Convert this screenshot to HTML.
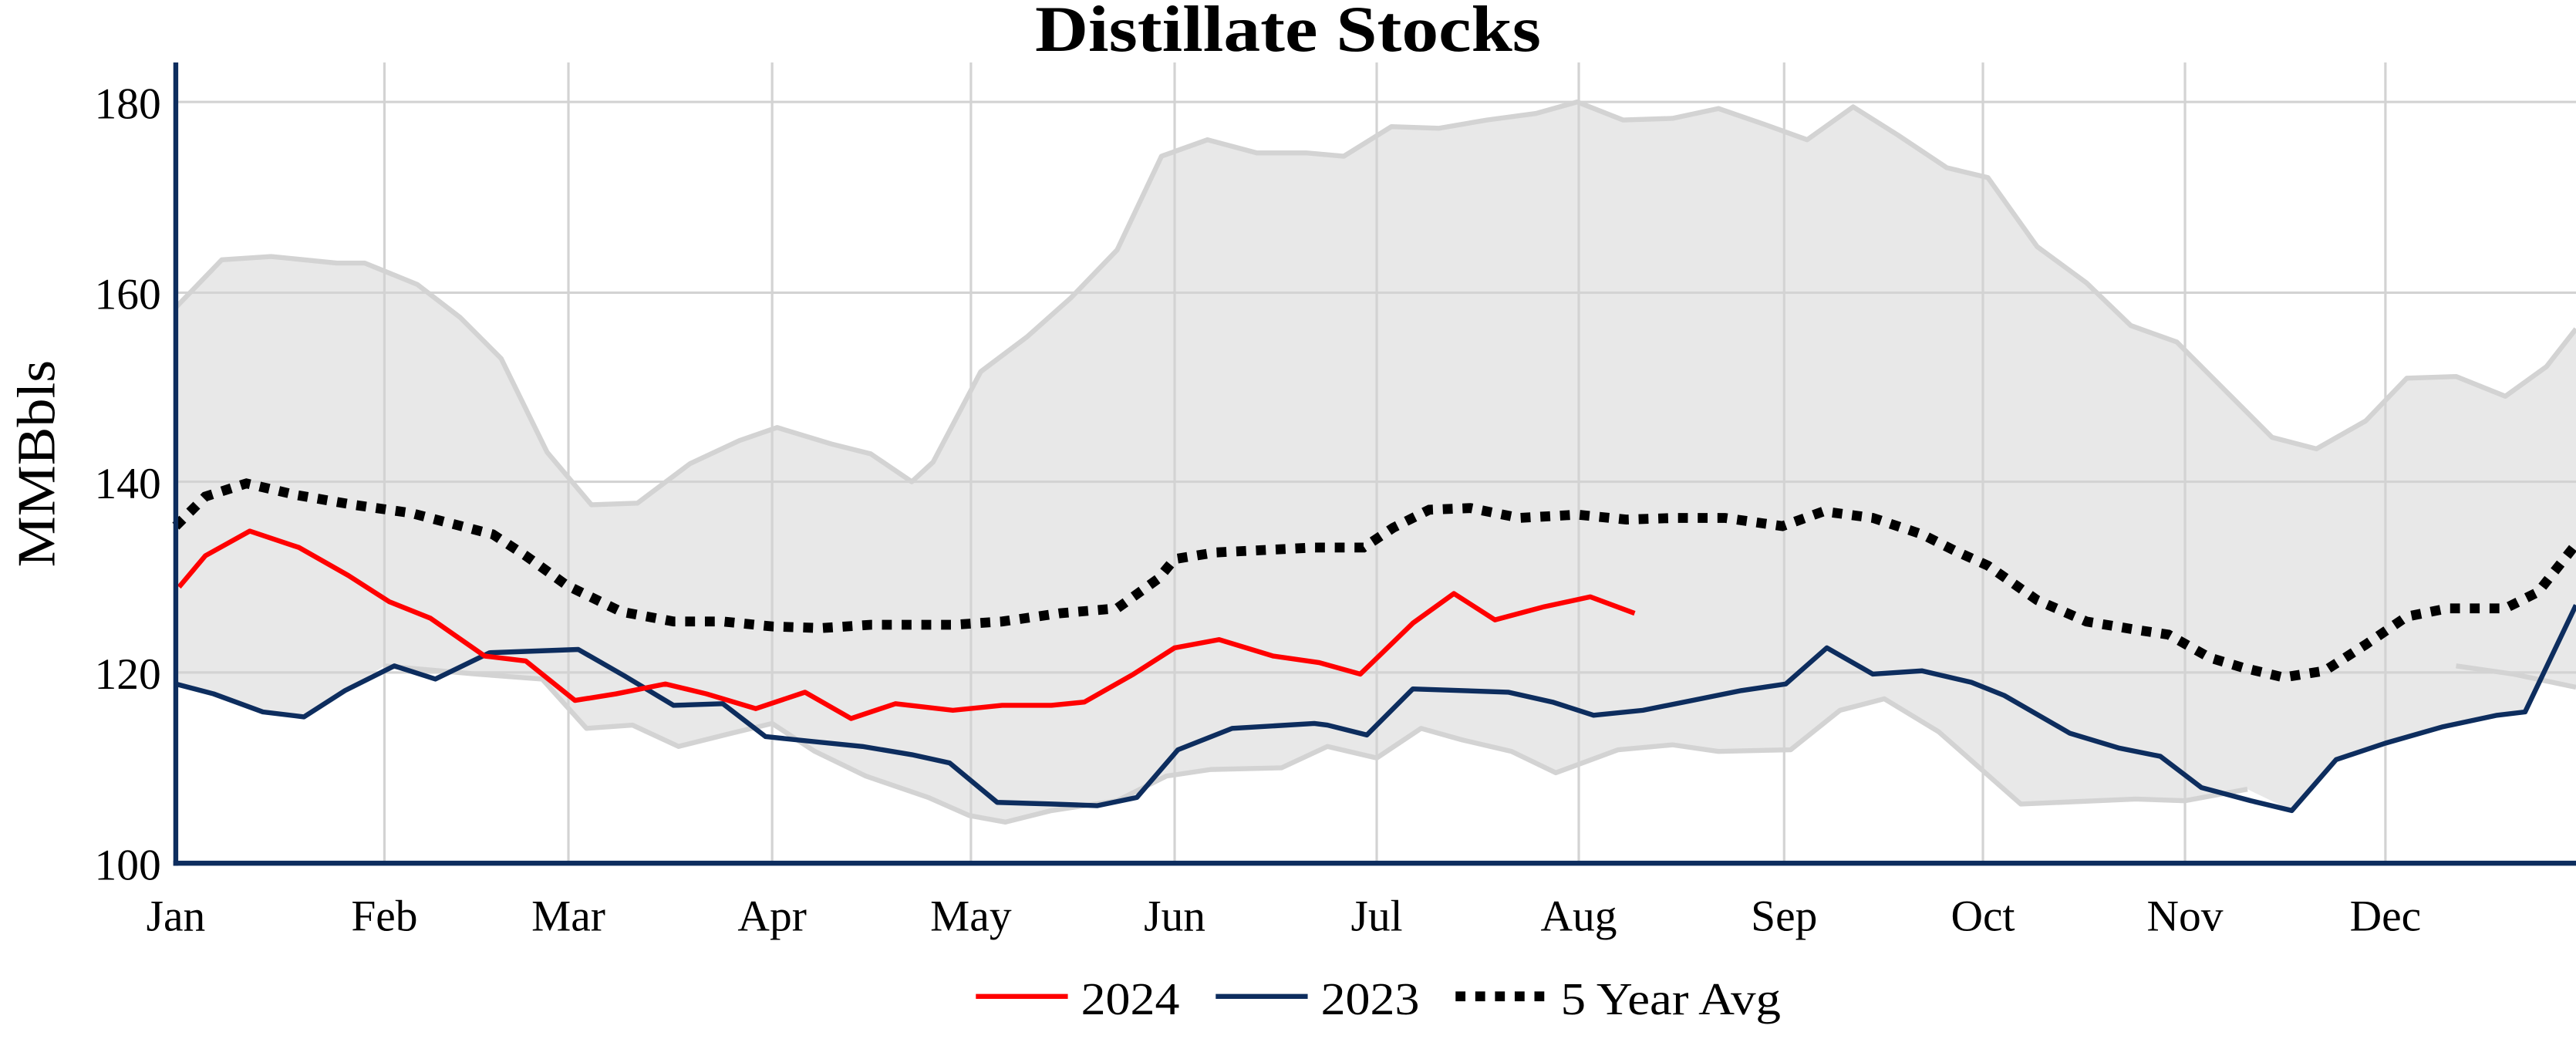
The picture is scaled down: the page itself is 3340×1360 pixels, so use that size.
<!DOCTYPE html>
<html><head><meta charset="utf-8"><style>html,body{margin:0;padding:0;background:#fff}svg{display:block}</style></head>
<body>
<svg width="3340" height="1360" viewBox="0 0 1568 638" preserveAspectRatio="none" xmlns="http://www.w3.org/2000/svg" font-family="Liberation Serif, serif">
<rect width="1568" height="638" fill="#fff"/>
<!-- band -->
<polygon fill="#e8e8e8" points="107,187 135,158 165,156 205,160 222,160 254,173 280,193 305,218 333,275 360,307 388,306 420,282 450,268 473,260 506,270 530,276 555,293 568,281 597,226 625,205 652,181 680,152 707,95 735,85 765,93 795,93 818,95 847,77 876,78 905,73 935,69 960,62 988,73 1018,72 1046,66 1075,76 1100,85 1128,65 1155,82 1185,102 1210,108 1240,150 1270,172 1297,198 1325,208 1355,238 1383,266 1410,273 1440,256 1465,230 1495,229 1525,241 1550,223 1568,200 1568,418 1547,412 1537,433 1520,435 1487,442 1452,452 1422,462 1395,493 1368,480 1330,487 1300,486 1230,489 1205,467 1180,445 1147,425 1120,432 1090,456 1046,457 1018,453 985,456 947,470 920,457 890,450 865,443 838,461 808,454 780,467 737,468 710,472 680,487 640,493 612,500 590,496 565,485 527,472 496,457 470,440 445,446 413,454 385,441 357,443 330,413 290,410 234,405 210,420 185,436 160,433 130,422 107,416"/>
<!-- grid -->
<g stroke="#d3d3d3" stroke-width="1.5">
<line x1="107" y1="62" x2="1568" y2="62"/><line x1="107" y1="178" x2="1568" y2="178"/><line x1="107" y1="293" x2="1568" y2="293"/><line x1="107" y1="409" x2="1568" y2="409"/>
<line x1="234" y1="38" x2="234" y2="525"/><line x1="346" y1="38" x2="346" y2="525"/><line x1="470" y1="38" x2="470" y2="525"/><line x1="591" y1="38" x2="591" y2="525"/><line x1="715" y1="38" x2="715" y2="525"/><line x1="838" y1="38" x2="838" y2="525"/><line x1="961" y1="38" x2="961" y2="525"/><line x1="1086" y1="38" x2="1086" y2="525"/><line x1="1207" y1="38" x2="1207" y2="525"/><line x1="1330" y1="38" x2="1330" y2="525"/><line x1="1452" y1="38" x2="1452" y2="525"/>
</g>
<g fill="none" stroke="#d3d3d3" stroke-width="3" stroke-linejoin="round">
<polyline points="107,187 135,158 165,156 205,160 222,160 254,173 280,193 305,218 333,275 360,307 388,306 420,282 450,268 473,260 506,270 530,276 555,293 568,281 597,226 625,205 652,181 680,152 707,95 735,85 765,93 795,93 818,95 847,77 876,78 905,73 935,69 960,62 988,73 1018,72 1046,66 1075,76 1100,85 1128,65 1155,82 1185,102 1210,108 1240,150 1270,172 1297,198 1325,208 1355,238 1383,266 1410,273 1440,256 1465,230 1495,229 1525,241 1550,223 1568,200"/>
<polyline points="234,405 290,410 330,413 357,443 385,441 413,454 445,446 470,440 496,457 527,472 565,485 590,496 612,500 640,493 680,487 710,472 737,468 780,467 808,454 838,461 865,443 890,450 920,457 947,470 985,456 1018,453 1046,457 1090,456 1120,432 1147,425 1180,445 1205,467 1230,489 1300,486 1330,487 1368,480"/>
<polyline points="1495,405 1530,410 1568,418"/>
</g>
<!-- 5yr avg -->
<polyline fill="none" stroke="#000" stroke-width="6" stroke-dasharray="6,6" points="107,320 125,302 150,294 180,301 215,307 250,312 300,325 320,338 345,356 378,372 410,378 440,378 470,381 500,382 530,380 560,380 580,380 610,378 645,373 680,370 705,352 715,340 740,336 800,333 830,333 848,321 870,310 895,309 925,315 960,313 990,316 1020,315 1050,315 1085,320 1110,311 1140,315 1170,325 1190,335 1210,344 1240,365 1270,378 1300,383 1320,386 1345,400 1365,406 1390,412 1415,408 1440,392 1465,375 1490,370 1525,370 1545,360 1568,331"/>
<!-- 2023 -->
<polyline fill="none" stroke="#0d2d5e" stroke-width="3" stroke-linejoin="round" points="107,416 130,422 160,433 185,436 210,420 240,405 265,413 298,397 352,395 380,411 410,429 440,428 466,448 495,451 525,454 555,459 578,464 607,488 640,489 668,490 692,485 717,456 750,443 800,440 808,441 832,447 860,419 918,421 945,427 970,435 1000,432 1030,426 1060,420 1087,416 1112,394 1140,410 1170,408 1200,415 1220,423 1260,446 1290,455 1315,460 1340,479 1370,487 1395,493 1422,462 1452,452 1487,442 1520,435 1537,433 1568,368"/>
<!-- 2024 -->
<polyline fill="none" stroke="#ff0000" stroke-width="3" stroke-linejoin="round" points="109,357 125,338 152,323 182,333 212,350 237,366 262,376 295,399 320,402 350,426 375,422 405,416 430,422 460,431 490,421 518,437 545,428 580,432 610,429 640,429 660,427 690,410 715,394 742,389 775,399 803,403 828,410 860,379 885,361 910,377 940,369 968,363 995,373"/>
<!-- axes -->
<line x1="107" y1="38" x2="107" y2="526.5" stroke="#0d2d5e" stroke-width="3"/>
<line x1="105.5" y1="525" x2="1568" y2="525" stroke="#0d2d5e" stroke-width="3"/>
<!-- labels -->
<text x="784" y="31" text-anchor="middle" font-size="40" font-weight="bold" textLength="308" lengthAdjust="spacingAndGlyphs">Distillate Stocks</text>
<g font-size="27" text-anchor="end">
<text x="98" y="72">180</text><text x="98" y="188">160</text><text x="98" y="303">140</text><text x="98" y="419">120</text><text x="98" y="535">100</text>
</g>
<g font-size="27" text-anchor="middle">
<text x="107" y="566">Jan</text><text x="234" y="566">Feb</text><text x="346" y="566">Mar</text><text x="470" y="566">Apr</text><text x="591" y="566">May</text><text x="715" y="566">Jun</text><text x="838" y="566">Jul</text><text x="961" y="566">Aug</text><text x="1086" y="566">Sep</text><text x="1207" y="566">Oct</text><text x="1330" y="566">Nov</text><text x="1452" y="566">Dec</text>
</g>
<text transform="translate(33,282) rotate(-90)" text-anchor="middle" font-size="33" textLength="126" lengthAdjust="spacingAndGlyphs">MMBbls</text>
<!-- legend -->
<line x1="594" y1="606" x2="650" y2="606" stroke="#ff0000" stroke-width="3"/>
<text x="658" y="617" font-size="28" textLength="60" lengthAdjust="spacingAndGlyphs">2024</text>
<line x1="740" y1="606" x2="796" y2="606" stroke="#0d2d5e" stroke-width="3"/>
<text x="804" y="617" font-size="28" textLength="60" lengthAdjust="spacingAndGlyphs">2023</text>
<line x1="886" y1="606" x2="942" y2="606" stroke="#000" stroke-width="6" stroke-dasharray="6,6"/>
<text x="950" y="617" font-size="28" textLength="134" lengthAdjust="spacingAndGlyphs">5 Year Avg</text>
</svg>
</body></html>
